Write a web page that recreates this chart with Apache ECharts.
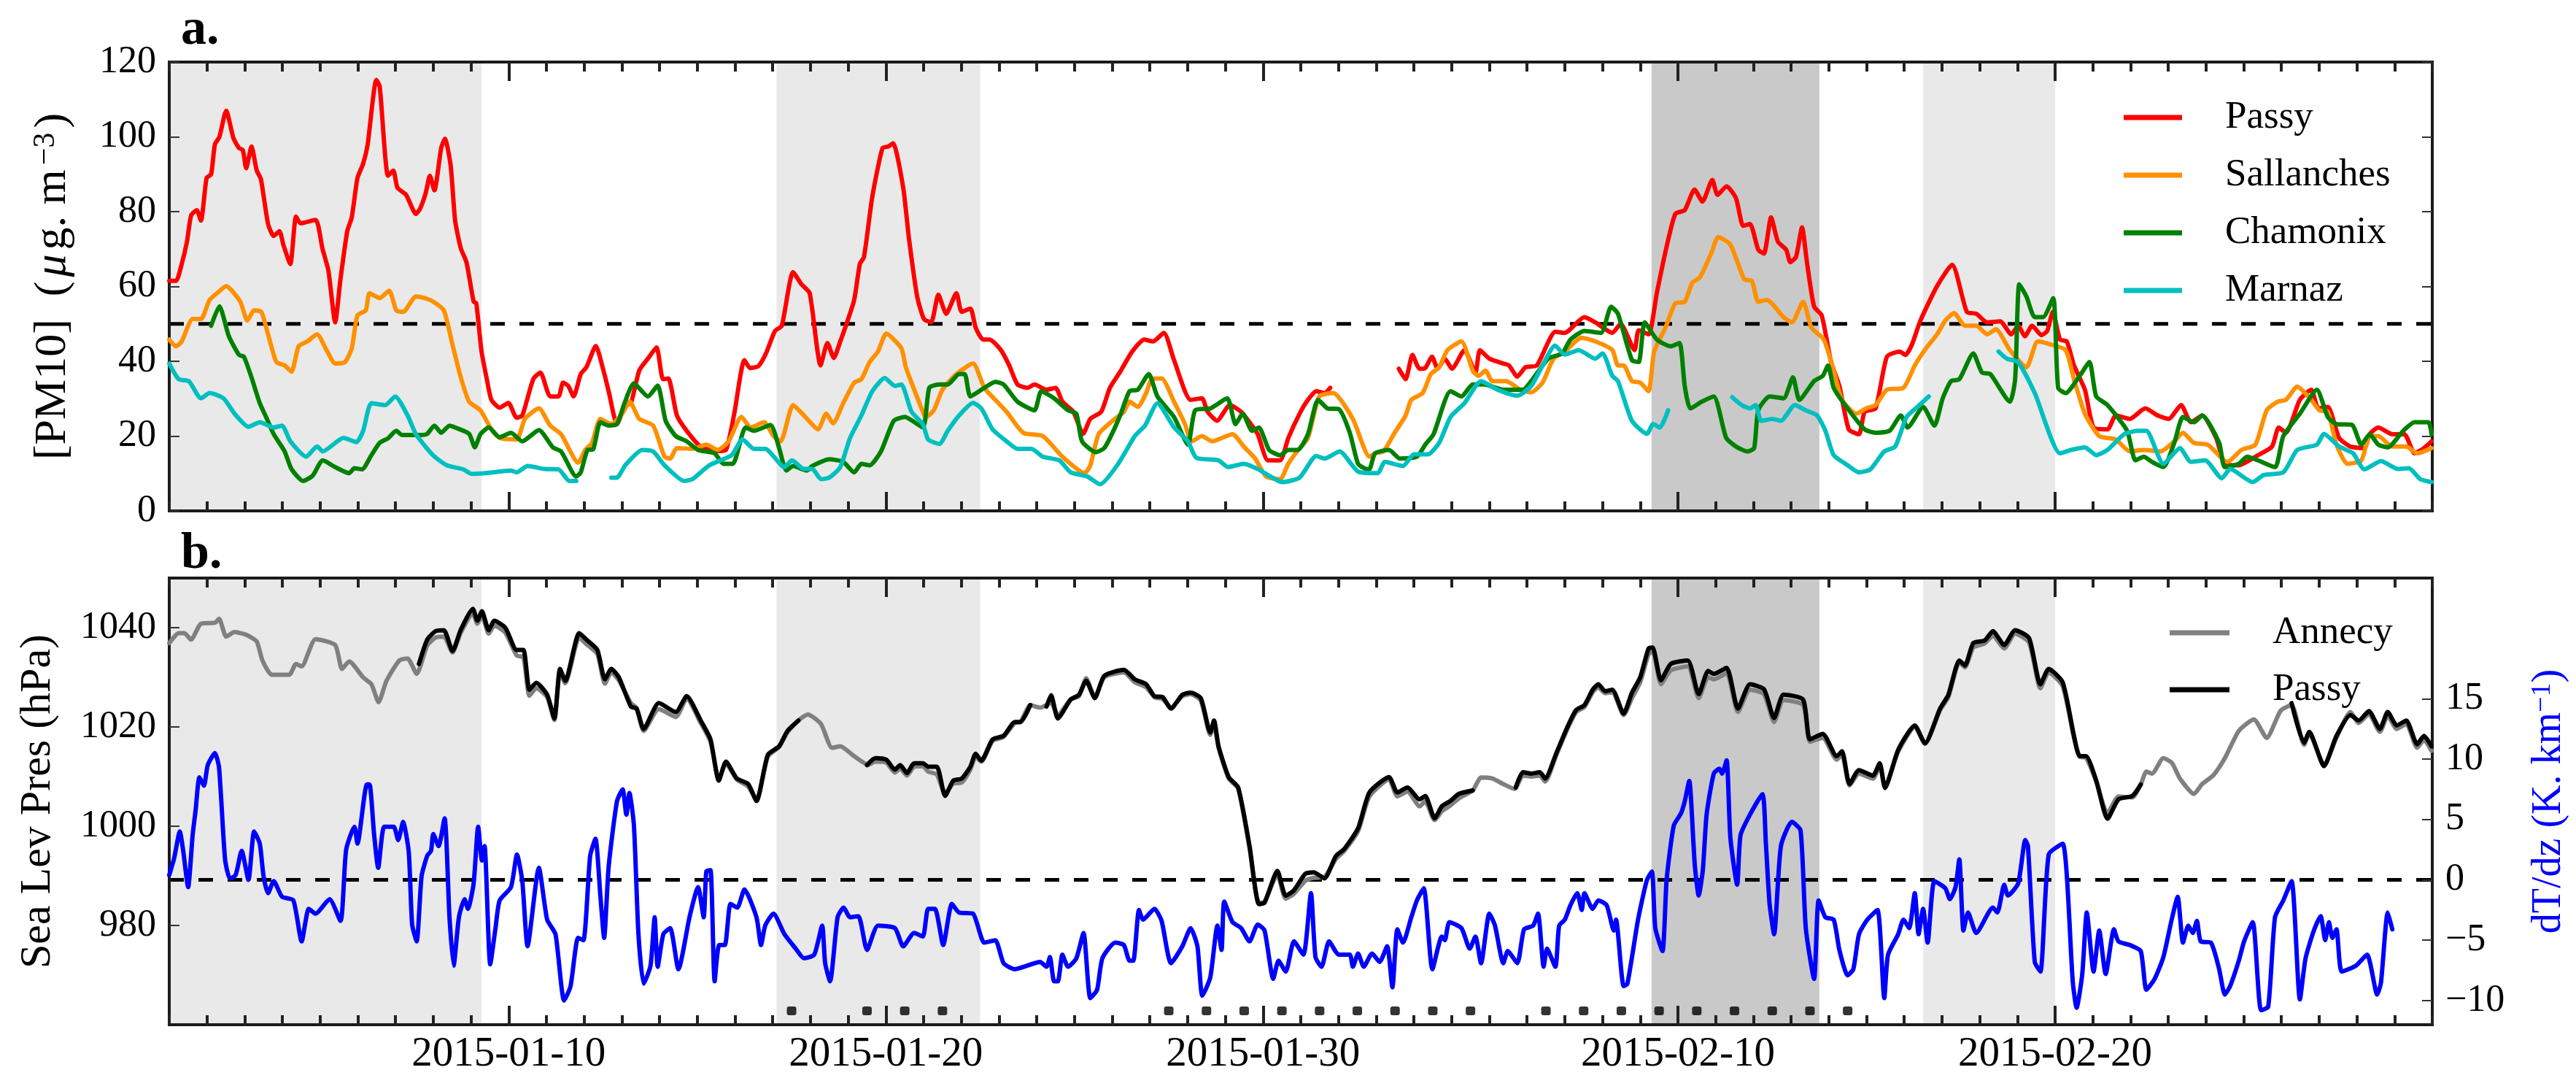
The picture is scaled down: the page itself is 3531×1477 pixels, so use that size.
<!DOCTYPE html>
<html><head><meta charset="utf-8">
<style>html,body{margin:0;padding:0;background:#fff}#c{width:3531px;height:1477px}</style>
<script src="https://cdn.jsdelivr.net/npm/echarts@6/dist/echarts.min.js"></script>
</head><body><div id="c"></div>
<script>
// x values: days after 2015-01-01 00:00
const majorDays=[9,19,29,40,50];
const majorLabels=['2015-01-10','2015-01-20','2015-01-30','2015-02-10','2015-02-20'];
const pmTicks=[0,20,40,60,80,100,120];
const presTicks=[980,1000,1020,1040];
const dtTicks=[-10,-5,0,5,10,15];
const lightSpells=[[0,8.28],[16.1,21.5],[46.5,50]];
const darkSpells=[[39.3,43.75]];
const pmLimit=[[0,50],[60,50]];
const dtZero=[[0,0],[60,0]];
const stableDays=[16.5,18.5,19.5,20.5,26.5,27.5,28.5,29.5,30.5,31.5,32.5,33.5,34.5,36.5,37.5,38.5,39.5,40.5,41.5,42.5,43.5,44.5];

const pmPassy=[[0,61.5],[.18,61.5],[.33,66],[.47,72],[.58,79],[.73,80.4],[.84,77.6],[.99,89],[1.11,90],[1.21,98],[1.33,100],[1.51,107],[1.7,99.7],[1.85,97],[1.95,96.5],[2.04,91.6],[2.18,97.4],[2.32,91],[2.43,88.7],[2.62,76.7],[2.77,73.5],[2.92,74.8],[3.03,71],[3.21,66],[3.36,78.7],[3.48,76.9],[3.88,77.8],[4.06,70.2],[4.22,64.2],[4.4,50.4],[4.54,62],[4.72,74.8],[4.84,78.5],[4.99,89],[5.14,92.8],[5.26,97.9],[5.49,115.2],[5.58,113.5],[5.8,89.6],[5.94,91],[6.05,86.4],[6.28,84.5],[6.54,79.4],[6.65,80.8],[6.8,85],[6.91,89.6],[7.03,85.7],[7.21,97],[7.31,99.5],[7.46,92.4],[7.58,77.6],[7.73,70.2],[7.88,66.5],[8.07,56],[8.14,55.5],[8.28,42.6],[8.42,35.2],[8.54,29.7],[8.76,27.6],[8.99,28.9],[9.21,24.9],[9.36,25.5],[9.65,35.2],[9.84,37],[10.1,30.6],[10.32,30.6],[10.44,34.3],[10.58,33.4],[10.72,30.6],[10.91,36.6],[11.06,38.4],[11.31,44.1],[11.5,38],[11.65,32],[11.87,23.2],[12.09,28.3],[12.24,28.8],[12.46,37.5],[12.69,40.7],[12.92,43.7],[13.09,35.2],[13.23,35.4],[13.46,25.5],[13.72,21.4],[14.09,17.2],[14.54,16],[14.76,16.3],[14.98,26],[15.25,40.3],[15.4,38.2],[15.62,38.7],[15.82,42.1],[16.06,48.1],[16.24,49.5],[16.54,63.8],[16.76,60.6],[16.98,58.2],[17.27,38.9],[17.45,44.9],[17.62,40.9],[17.79,45.3],[17.97,50.4],[18.16,56.4],[18.31,66],[18.42,67.9],[18.64,84],[18.91,97],[19.06,97.4],[19.19,98.3],[19.46,86.4],[19.61,73],[19.83,57.3],[20.01,51.3],[20.2,50.4],[20.39,57.8],[20.6,52.7],[20.87,58.2],[21.01,53.2],[21.24,54.1],[21.38,49],[21.58,45.8],[21.75,45.8],[22.05,43],[22.27,38.9],[22.49,33.8],[22.76,32.9],[22.94,33.8],[23.26,32.4],[23.5,32.9],[23.68,29.2],[23.97,26.5],[24.23,20.6],[24.42,24.6],[24.71,26.5],[24.94,32.9],[25.23,37.5],[25.53,42.6],[25.85,45.8],[26.08,45.3],[26.37,47.6],[26.64,40.3],[27.08,29.7],[27.38,30.1],[27.53,26.5],[27.78,24.1],[28.12,28.3],[28.42,26.5],[28.64,23.7],[28.86,20.5],[29.13,13.5],[29.45,13.5],[29.67,19.5],[29.97,26],[30.19,29.7],[30.41,32],[30.63,31.5],[30.78,32.9],[31,null],[32.6,38],[32.78,35.2],[32.96,41.7],[33.15,38],[33.3,38.2],[33.48,41.2],[33.63,38],[33.82,40.7],[34.01,38],[34.34,43],[34.63,37],[34.75,43],[35,40.7],[35.37,39.4],[35.52,38.9],[35.74,35.9],[35.96,38.4],[36.26,38.9],[36.75,47.9],[37,47.6],[37.52,51.8],[37.81,50.4],[38.26,47.6],[38.48,50],[38.85,43],[38.96,48.3],[39.22,47.2],[39.44,58.2],[39.67,69.3],[39.93,79.4],[40.18,80.4],[40.44,85.9],[40.65,82.7],[40.91,88.5],[41.05,84.5],[41.29,86.8],[41.54,83.6],[41.73,76.2],[41.91,76.7],[42.13,69.8],[42.28,68.8],[42.47,78.5],[42.65,72],[42.87,69.8],[42.98,66.5],[43.13,67.9],[43.29,75.8],[43.42,66.5],[43.61,54.6],[43.81,52.3],[44.06,39.8],[44.28,33.4],[44.53,21.8],[44.8,20.5],[44.95,26.5],[45.24,27.4],[45.54,41.2],[45.88,42.6],[46.03,41.7],[46.2,44.4],[46.43,50.9],[46.87,60.1],[47.27,65.8],[47.66,53.2],[47.91,52.7],[48.2,50.4],[48.54,50.7],[48.84,47.2],[49.02,49.5],[49.2,46.7],[49.39,49.5],[49.64,47],[49.79,48.1],[49.94,53.2],[50.13,45.8],[50.31,45.3],[50.5,38.9],[50.79,32.4],[51.02,22.3],[51.39,21.8],[51.61,25.5],[51.98,24.6],[52.39,27.4],[52.72,25.5],[53.01,24.6],[53.34,28.3],[53.6,23.7],[53.9,25.5],[54.27,19.5],[54.5,12.6],[54.87,12.2],[55.38,14.9],[55.75,17.2],[55.93,22.3],[56.12,20.9],[56.49,29.7],[56.79,32.4],[56.98,27.4],[57.23,27.8],[57.53,19.5],[57.83,17.2],[58.2,16.8],[58.34,20.5],[58.57,22.3],[58.94,20.5],[59.26,20.5],[59.53,15.4],[59.78,16.8],[59.98,18.6]];

const pmSallanches=[[0,45.8],[.18,44],[.33,45.3],[.62,51.3],[.84,51.3],[1.07,56.4],[1.29,58.4],[1.51,60.1],[1.88,56],[2.07,50.9],[2.25,53.6],[2.44,53.2],[2.62,47.2],[2.84,39.8],[3.06,38.9],[3.24,37.2],[3.43,44],[3.66,45.3],[3.92,47.2],[4.17,43],[4.4,39.4],[4.66,39.8],[4.84,43.5],[4.99,52.3],[5.21,53.6],[5.31,58.2],[5.58,56.9],[5.83,58.9],[6.02,53.6],[6.2,53.2],[6.54,57.3],[6.77,56.9],[6.99,56],[7.28,53.6],[7.51,44.4],[7.73,35.7],[7.95,29.2],[8.25,26.9],[8.54,21.8],[8.76,19.5],[9.21,19.1],[9.43,24.6],[9.8,27.4],[10.1,22.8],[10.39,20.5],[10.84,12.9],[11.03,16.3],[11.21,18.2],[11.43,24.6],[11.72,23.2],[11.98,25.5],[12.21,29.2],[12.46,24.6],[12.83,22.8],[13.13,14.5],[13.28,14],[13.46,16.8],[13.87,16.6],[14.24,17.7],[14.54,16.3],[14.83,18.6],[15.17,25.1],[15.42,22.3],[15.77,23.7],[16.02,20],[16.21,18.6],[16.54,28.3],[16.83,25.5],[17.2,21.8],[17.42,26],[17.6,23.4],[17.87,28.8],[18.16,34.3],[18.35,35.2],[18.57,39.8],[18.79,42.6],[19.01,47.4],[19.41,43.5],[19.53,38.4],[19.98,26.5],[20.05,25],[20.27,26.9],[20.5,32.4],[20.87,36.6],[21.31,39.4],[21.61,32.9],[21.9,29.7],[22.2,26.5],[22.64,20.9],[23.16,20],[23.68,14.5],[24.27,10.1],[24.42,12.2],[24.64,20.5],[25.01,24.1],[25.31,26.5],[25.46,29.2],[25.68,27.8],[25.9,31.5],[26.05,35.2],[26.31,35.4],[26.64,29.2],[26.93,23.2],[27.11,18.6],[27.38,20],[27.65,18.6],[28.19,20.5],[28.49,17.2],[28.79,14],[29.08,9.2],[29.45,8.5],[29.67,12.6],[29.9,15.9],[30.19,19.5],[30.49,30.6],[30.86,31.5],[31.38,24.6],[31.82,14.5],[31.97,15.4],[32.19,15.9],[32.49,20.9],[32.78,25.5],[32.93,29.7],[33.23,31.5],[33.45,36.6],[33.67,38.4],[33.89,43],[34.26,45.3],[34.56,37.5],[34.71,36.1],[34.9,37.5],[35.08,34.7],[35.45,34.7],[35.82,32.4],[36.11,31.7],[36.41,34.3],[36.7,40.7],[37,42.6],[37.44,46.3],[37.81,45.3],[38.26,43],[38.41,38.9],[38.56,38.9],[38.78,34.7],[39,34.3],[39.22,32],[39.37,42.6],[39.67,49],[39.93,55.5],[40.18,55.9],[40.38,61],[40.58,62.4],[40.88,68.8],[41.07,73.2],[41.39,71.2],[41.76,61.9],[41.96,61.5],[42.13,55.9],[42.36,56.4],[42.8,51.8],[43.02,50.4],[43.32,55.9],[43.54,49],[43.87,45.8],[44.13,37.5],[44.35,29.7],[44.73,26],[44.99,27.4],[45.24,28.3],[45.54,32.4],[45.98,32.9],[46.28,38.9],[46.58,43.5],[46.87,47.2],[47.09,50.9],[47.32,52.9],[47.61,49.5],[47.91,49.5],[48.2,47.2],[48.43,48.6],[48.8,43],[49.24,38.4],[49.54,45.3],[49.91,44.4],[50.28,43],[50.5,35.2],[50.79,26],[51.17,20],[51.61,19.1],[51.98,15.9],[52.35,16.3],[52.79,15.9],[53.16,18.6],[53.39,20.9],[53.68,18.2],[54.05,17.7],[54.57,13.1],[54.94,16.3],[55.31,17.7],[55.61,26.9],[55.9,29.2],[56.12,29.7],[56.42,33.2],[56.79,29.7],[57.01,26.9],[57.23,26.5],[57.46,17.7],[57.75,12.6],[58.12,13.5],[58.34,20],[58.57,20],[58.94,17.2],[59.31,17.2],[59.6,15.4],[59.98,16.8]];

const pmChamonix=[[1.11,49.5],[1.33,54.7],[1.58,46.7],[1.85,41.7],[1.98,41.2],[2.18,35.7],[2.4,28.8],[2.59,24.6],[2.77,20.5],[3.06,15.9],[3.24,11.2],[3.55,8],[3.8,9.4],[4.07,13.5],[4.4,11.7],[4.77,10.1],[4.91,11.4],[5.11,11.1],[5.36,14.9],[5.58,18.2],[5.8,19.4],[6.02,21.4],[6.17,20.3],[6.69,20.3],[6.84,20.6],[7.03,22.8],[7.21,20.9],[7.43,22.8],[7.58,22.3],[7.95,20.6],[8.1,17],[8.25,20.5],[8.47,22.3],[8.76,19.7],[9.06,20.9],[9.36,18.6],[9.8,21.6],[10.17,17],[10.39,15.9],[10.79,9.2],[10.91,10.3],[11.09,16.3],[11.24,16.5],[11.43,23.7],[11.65,22.8],[11.87,23.2],[12.07,28.8],[12.32,34.1],[12.69,30.6],[12.95,33.5],[13.16,24.1],[13.43,20],[13.72,18.6],[14.02,16.3],[14.46,15.4],[14.69,12.6],[14.94,12.6],[15.28,22.3],[15.5,21.4],[15.94,23],[16.17,16.8],[16.36,10.8],[16.54,12],[16.91,10.8],[17.05,12],[17.5,13.8],[17.87,13.1],[18.16,10.3],[18.35,12.6],[18.57,12.2],[18.87,15.9],[19.21,24.1],[19.5,25.1],[19.98,22.3],[20.15,32.9],[20.42,33.8],[20.64,33.8],[20.94,36.6],[21.09,36.6],[21.24,30.6],[21.61,32.9],[21.9,34.5],[22.12,33.8],[22.49,29.2],[22.94,26.9],[23.12,32],[23.46,30.1],[23.83,26.9],[24.05,26],[24.2,18.6],[24.57,15.7],[24.79,16.8],[25.01,20.9],[25.23,26],[25.46,32],[25.68,32.4],[25.97,36.6],[26.2,30.6],[26.64,25.1],[27.01,17.7],[27.2,26.9],[27.6,27.4],[28.05,30.1],[28.27,23.2],[28.46,26],[28.71,21.4],[28.89,22.3],[29.16,16.3],[29.45,14.9],[29.67,16.3],[29.92,16.3],[30.19,20.5],[30.46,29.7],[30.71,27.4],[31.01,27.2],[31.3,20.9],[31.52,12.6],[31.75,11.2],[31.82,11.2],[31.97,15.4],[32.34,16.3],[32.63,14],[33.08,14.5],[33.3,17.7],[33.52,20.5],[33.97,32],[34.26,30.6],[34.56,33.8],[34.86,33.8],[35.37,32.4],[35.89,32.4],[36.11,34.7],[36.56,40.7],[36.93,42.1],[37.15,45.8],[37.52,48.1],[37.96,47.6],[38.23,54.6],[38.41,52.7],[38.78,40.3],[38.96,39.8],[39.12,50.4],[39.44,45.8],[39.81,44],[40.04,44.9],[40.18,33.4],[40.33,27.4],[40.63,29.2],[40.95,30.6],[41.28,19.5],[41.54,17.2],[41.84,15.9],[42.02,16.8],[42.13,26.9],[42.43,30.6],[42.8,30.1],[43.05,35.7],[43.22,29.7],[43.61,34.7],[43.84,36.1],[43.98,38.9],[44.13,32.9],[44.43,28.3],[44.95,21.8],[45.24,20.9],[45.61,21.4],[45.91,25.5],[46.09,22.3],[46.5,27.8],[46.8,22.8],[47.02,30.1],[47.24,34.7],[47.46,35.2],[47.83,42.1],[48.06,37],[48.28,36.6],[48.8,29.2],[48.94,35.2],[49.05,60.6],[49.24,57.3],[49.46,51.8],[49.68,51.8],[49.95,56.9],[50.08,32.9],[50.28,31.5],[50.65,36.1],[50.91,39.8],[51.09,30.6],[51.39,28.3],[51.91,21.4],[52.13,13.5],[52.35,14.5],[52.57,13.1],[52.87,11.7],[53.16,18.2],[53.39,25.1],[53.68,23.7],[53.9,25.5],[54.35,18.2],[54.5,11.7],[54.87,12.6],[55.09,14.5],[55.38,13.5],[55.83,11.7],[56.05,20],[56.49,26],[56.94,32.4],[57.23,25.1],[57.46,23.2],[57.87,23],[58.12,17.7],[58.34,20.5],[58.57,17.7],[58.82,17],[59.23,21.4],[59.53,23.7],[59.9,23.7],[59.98,20.5]];

const pmMarnaz=[[0,39.4],[.25,35.2],[.52,34.7],[.84,30.1],[1.07,31.5],[1.44,30.1],[1.73,26],[2.1,22.5],[2.4,23.7],[2.77,22.3],[2.99,22.8],[3.21,18.6],[3.63,14.5],[3.92,17.2],[4.07,15.9],[4.62,19.5],[4.96,18.4],[5.14,21.4],[5.36,28.8],[5.73,28.3],[5.99,30.6],[6.32,25.5],[6.54,20.5],[6.99,14.9],[7.36,12.2],[7.8,11.1],[8.02,9.9],[8.39,10.1],[9.06,10.8],[9.21,10.3],[9.5,12],[9.95,11.2],[10.32,11.1],[10.61,8],[10.79,8],[11.2,null],[11.72,8.9],[11.87,8.9],[12.09,12.2],[12.54,16.3],[12.83,15.9],[13.13,12.2],[13.65,8],[13.87,8.5],[14.32,12.2],[14.91,14.9],[15.2,19.1],[15.5,16.6],[15.8,16.6],[16.31,11.7],[16.51,13.5],[16.83,11.2],[17.05,11.2],[17.28,8.5],[17.5,8.9],[17.79,11.7],[18.05,19.5],[18.35,25.5],[18.64,32],[18.97,35.5],[19.24,33.4],[19.41,33.8],[19.68,26.5],[19.98,23.2],[20.12,19.1],[20.42,17.9],[20.64,21.4],[20.94,25.5],[21.31,28.9],[21.53,27.4],[21.83,21.8],[22.2,18.6],[22.49,16.6],[22.86,16.6],[23.16,14.5],[23.6,13.5],[23.9,10.3],[24.34,9.2],[24.68,7.1],[25.16,12.6],[25.6,20],[25.87,22.8],[26.2,28.8],[26.64,22.3],[27.01,18.6],[27.23,14.2],[27.82,13.5],[28.07,11.7],[28.49,12.6],[28.86,11.2],[29.52,7.7],[29.97,8.9],[30.41,14.7],[30.63,14],[31.03,15.9],[31.52,10.5],[32.04,10.1],[32.23,13.1],[32.71,12],[33,15.1],[33.37,15.1],[33.67,18.2],[33.97,25.1],[34.34,28.8],[34.78,34.7],[35.22,32.4],[35.74,30.8],[36.11,33.4],[36.41,38.9],[36.74,44.2],[37,41.8],[37.37,43],[37.81,40.7],[38,42.1],[38.26,36.1],[38.41,34.7],[38.78,24.1],[39.18,20.6],[39.34,23.2],[39.52,22.3],[39.74,26.9],[40.5,null],[41.44,30.4],[41.69,28.3],[41.91,27.4],[42.06,28.3],[42.21,24.1],[42.5,24.6],[42.73,24.1],[43.1,28.3],[43.39,26.9],[43.69,25.5],[43.91,21.4],[44.13,14.9],[44.5,12.2],[44.8,10.3],[45.1,11.1],[45.47,15.9],[45.76,17.2],[46.06,25.1],[46.35,27.8],[46.65,30.6],[47.5,null],[48.5,42.6],[48.72,40.7],[49.02,39.8],[49.46,31.5],[50.13,15.4],[50.42,16.3],[50.79,17],[51.09,14.9],[51.39,16.3],[51.83,20.5],[52.2,21.4],[52.42,21.4],[52.87,12.6],[53.31,16.8],[53.6,13.1],[53.98,13.5],[54.42,8.7],[54.64,11.2],[55.24,7.7],[55.53,9.6],[56.05,10.3],[56.42,16.3],[56.94,17.7],[57.13,20.6],[57.53,17.2],[57.9,15.4],[58.2,11.1],[58.64,13.3],[59.09,11.2],[59.38,11.4],[59.68,8.5],[59.98,7.7]];

const presAnnecy=[[0,1036.9],[.25,1038.9],[.4,1038.9],[.58,1037.6],[.84,1040.8],[1.21,1041],[1.32,1041.8],[1.51,1038.2],[1.73,1039.1],[2.03,1038.6],[2.32,1037.2],[2.47,1033.4],[2.72,1030.5],[3.18,1030.5],[3.36,1032.7],[3.51,1032.2],[3.88,1037.7],[4.4,1036.5],[4.58,1031.7],[4.77,1033.2],[5.14,1030],[5.36,1028.6],[5.55,1025],[5.76,1029.3],[6.1,1033.4],[6.32,1033.8],[6.56,1030.7],[6.84,1036.4],[7.06,1038],[7.28,1038.2],[7.51,1035],[7.73,1039],[8.05,1042.8],[8.17,1040.8],[8.29,1042.4],[8.47,1038.8],[8.62,1040.4],[8.91,1039],[9.21,1034.4],[9.39,1034],[9.55,1026.3],[9.73,1027.8],[10.02,1026],[10.21,1021.4],[10.36,1031],[10.5,1028.8],[10.87,1038],[11.06,1036.7],[11.35,1034.7],[11.55,1028.7],[11.72,1031],[11.92,1029.4],[12.24,1024.8],[12.39,1023.8],[12.58,1019.2],[12.98,1023.6],[13.43,1022],[13.72,1025.7],[14.09,1020.8],[14.35,1017],[14.57,1009.5],[14.76,1012.6],[15.05,1009.4],[15.35,1008],[15.57,1005.3],[15.87,1014],[16.17,1016],[16.39,1018.9],[16.68,1021.3],[16.93,1022.5],[17.28,1020.6],[17.57,1015.8],[17.79,1016.1],[18.16,1014.1],[18.53,1012.4],[18.72,1013],[19.01,1012.8],[19.24,1010.8],[19.38,1011.6],[19.56,1010.2],[19.75,1012],[19.98,1012.1],[20.12,1011],[20.35,1010.4],[20.57,1006.6],[20.79,1008.6],[21.01,1008.8],[21.24,1011.4],[21.38,1014],[21.53,1013],[21.83,1017.2],[22.12,1018],[22.42,1020.8],[22.57,1021],[22.83,1024.4],[23.09,1023.9],[23.38,1024.8],[23.56,1022.4],[23.9,1025.6],[24.12,1026.2],[24.31,1029.8],[24.54,1026],[24.79,1030],[25.31,1031],[25.6,1029],[25.9,1028],[26.12,1026],[26.34,1025.6],[26.56,1023.9],[26.86,1026.2],[27.08,1026.6],[27.35,1025.3],[27.6,1018.4],[27.7,1020.6],[27.82,1015.8],[28.09,1009.6],[28.34,1007.6],[28.64,995.6],[28.89,984.6],[29.04,984.8],[29.38,990.2],[29.6,985.4],[29.82,986.4],[30.12,989],[30.34,989.6],[30.63,989.8],[30.93,993.4],[31.15,995],[31.52,999],[31.82,1006],[32.34,1009.4],[32.56,1006],[32.83,1007],[33.15,1004],[33.3,1005],[33.55,1001.2],[33.74,1003],[33.97,1004.2],[34.19,1005.6],[34.56,1007.2],[34.78,1009.8],[35.08,1009.6],[35.37,1008.5],[35.67,1007.5],[35.89,1010.2],[36.11,1010],[36.34,1010.2],[36.48,1009],[36.78,1014.4],[37.07,1019.6],[37.3,1023],[37.52,1024],[37.74,1027],[37.89,1028],[38.07,1026.8],[38.26,1027],[38.56,1022.4],[38.78,1025.8],[39,1029],[39.22,1034.6],[39.33,1035.2],[39.55,1028.6],[39.81,1031.4],[40.26,1032.2],[40.55,1025.8],[40.8,1030],[40.95,1029.6],[41.29,1030.8],[41.59,1023],[41.91,1027.5],[42.28,1026.6],[42.55,1021],[42.8,1025.4],[43.32,1024.4],[43.5,1017],[43.84,1017.8],[44.21,1013.4],[44.35,1014.4],[44.55,1008.2],[44.8,1010.6],[45.17,1009.6],[45.35,1012],[45.49,1007.9],[45.84,1015],[46.28,1020],[46.55,1016.6],[46.95,1023.4],[47.17,1026],[47.46,1033],[47.61,1032],[47.83,1036],[48.13,1036.8],[48.35,1038.4],[48.65,1035.8],[48.94,1038.8],[49.31,1037],[49.61,1027.8],[49.83,1031],[50.2,1028.2],[50.5,1017.8],[50.65,1014],[50.82,1013.8],[51.09,1009],[51.39,1002.6],[51.68,1006],[52.05,1005.8],[52.27,1008.4],[52.42,1011],[52.57,1010.6],[52.87,1013.7],[53.1,1012.7],[53.31,1009.6],[53.68,1006.5],[53.9,1008.5],[54.2,1010.3],[54.5,1013.7],[54.87,1019.2],[55.27,1021.5],[55.61,1017.8],[55.98,1023.3],[56.27,1024.4],[56.6,1016.4],[56.74,1018.6],[57.13,1012.4],[57.46,1017.8],[57.83,1023],[58.05,1020.8],[58.32,1022.6],[58.61,1019],[58.82,1022.2],[59.06,1019.6],[59.31,1020.6],[59.6,1015.8],[59.78,1017.4],[59.98,1015.2]];

const presPassy=[[6.62,1032.7],[6.84,1037.6],[7.06,1039.3],[7.28,1039.5],[7.51,1035.3],[7.73,1039.6],[8.05,1043.8],[8.17,1041.4],[8.29,1043.3],[8.47,1039.5],[8.62,1041.4],[8.91,1040],[9.21,1035.5],[9.39,1035.5],[9.55,1027.5],[9.73,1028.9],[10.02,1026.5],[10.21,1021.7],[10.36,1031.7],[10.5,1029.3],[10.87,1038.9],[11.06,1037.6],[11.35,1035.5],[11.55,1029.6],[11.72,1031.7],[11.92,1030],[12.24,1024.1],[12.39,1023.7],[12.58,1019.6],[12.98,1024.8],[13.43,1023],[13.72,1026.2],[14.09,1021.3],[14.35,1017.5],[14.57,1009.2],[14.76,1013],[15.05,1009.6],[15.35,1008.5],[15.57,1005.1],[15.87,1014.4],[16.17,1016.1],[16.39,1019.2],[16.68,1021.3],[17,null],[18.5,1012.3],[18.72,1013.7],[19.01,1013.4],[19.24,1011.4],[19.38,1012.3],[19.56,1010.7],[19.75,1012.7],[19.98,1012.7],[20.12,1012],[20.35,1012],[20.57,1006.1],[20.79,1009.2],[21.01,1009.6],[21.24,1012],[21.38,1014.6],[21.53,1013.2],[21.83,1017.5],[22.12,1018.2],[22.42,1021],[22.57,1021],[22.83,1024.4],[23,null],[23.26,1024.1],[23.38,1026.4],[23.56,1021.7],[23.9,1025.5],[24.12,1026.5],[24.31,1029.3],[24.54,1025.8],[24.79,1030.3],[25.31,1031.5],[25.6,1029.6],[25.9,1028.6],[26.12,1026.2],[26.34,1026],[26.56,1023.7],[26.86,1026.5],[27.08,1026.9],[27.35,1025.8],[27.6,1018.9],[27.7,1021.3],[27.82,1016.1],[28.09,1009.9],[28.34,1007.8],[28.64,996.1],[28.89,984.3],[29.04,984.6],[29.38,991],[29.6,986],[29.82,987.1],[30.12,990.4],[30.34,990.7],[30.63,989.5],[30.93,994],[31.15,995.4],[31.52,999.6],[31.82,1006.8],[32.34,1009.9],[32.56,1006.8],[32.83,1007.8],[33.15,1005.4],[33.3,1006.1],[33.55,1001.6],[33.74,1004],[33.97,1005.1],[34.19,1006.5],[34.56,1007.2],[35,null],[35.7,1007.8],[35.89,1010.9],[36.11,1010.6],[36.34,1010.9],[36.48,1009.6],[36.78,1014.8],[37.07,1020],[37.3,1023.4],[37.52,1024.4],[37.74,1027.5],[37.89,1028.6],[38.07,1027.2],[38.26,1027.5],[38.56,1022.7],[38.78,1026.9],[39,1030],[39.22,1035.8],[39.33,1036],[39.55,1029.4],[39.81,1032.7],[40.26,1033.4],[40.55,1026.6],[40.8,1031.3],[40.95,1030.7],[41.29,1031.9],[41.59,1023.7],[41.91,1028.6],[42.28,1027.6],[42.55,1021.8],[42.8,1026.5],[43.32,1025.5],[43.5,1017.5],[43.84,1018.6],[44.21,1014.1],[44.35,1015.1],[44.55,1008.5],[44.8,1011.3],[45.17,1010.2],[45.35,1012.7],[45.49,1007.7],[45.84,1015.4],[46.28,1020.3],[46.55,1016.7],[46.95,1023.7],[47.17,1026.5],[47.46,1033.4],[47.61,1032.4],[47.83,1036.9],[48.13,1037.4],[48.35,1039.3],[48.65,1036.5],[48.94,1039.5],[49.31,1037.9],[49.61,1028.6],[49.83,1031.7],[50.2,1029],[50.5,1018.2],[50.65,1014.1],[50.82,1014.1],[51.09,1009.2],[51.39,1001.5],[51.68,1005.4],[52.05,1006.1],[52.27,1008.4],[52.5,null],[56.27,1024.8],[56.6,1016.8],[56.74,1019],[57.13,1012.1],[57.46,1018.2],[57.83,1022.4],[58.05,1021.3],[58.32,1023.2],[58.61,1019.6],[58.82,1023],[59.06,1020.3],[59.31,1021.3],[59.6,1016.5],[59.78,1018.2],[59.98,1016.1]];

const dTdz=[[0,.4],[.13,1.8],[.28,4],[.37,2.4],[.5,-.6],[.62,3.7],[.7,5.8],[.8,8.5],[.92,7.8],[1.02,9.5],[1.21,10.5],[1.32,9.3],[1.48,1.7],[1.61,.1],[1.76,.4],[1.92,2.4],[2.1,0],[2.25,4],[2.4,3],[2.5,.3],[2.62,-1.1],[2.77,-.1],[2.99,-1.4],[3.29,-1.7],[3.51,-5.1],[3.7,-2.4],[3.88,-2.8],[4.25,-1.6],[4.54,-3.4],[4.69,2.5],[4.91,4.4],[4.99,3],[5.24,7.9],[5.31,7.9],[5.43,3.8],[5.54,1],[5.7,4.4],[5.95,4.4],[6.07,3.3],[6.2,4.8],[6.35,2.3],[6.44,-3.7],[6.56,-5.1],[6.69,.3],[6.84,2],[6.94,2.4],[7,3.8],[7.14,2.8],[7.3,5.1],[7.43,-3.1],[7.54,-7.1],[7.68,-3.1],[7.83,-1.6],[7.92,-2.4],[8.07,-.3],[8.19,4.4],[8.29,1.6],[8.36,2.8],[8.51,-7],[8.65,-4],[8.76,-1.7],[9.06,-.6],[9.22,2.1],[9.36,-.1],[9.5,-5.5],[9.8,1],[10.02,-3.3],[10.24,-4.5],[10.47,-10],[10.64,-8.8],[10.84,-4.8],[10.98,-5],[11.16,2],[11.3,3.4],[11.43,-1.3],[11.53,-4.8],[11.65,1.1],[11.87,6.5],[12.02,7.5],[12.12,5.4],[12.2,7.2],[12.32,4.5],[12.44,-4.5],[12.58,-8.6],[12.76,-7.1],[12.87,-3.1],[12.95,-7.2],[13.1,-4.5],[13.28,-4],[13.5,-7.4],[13.8,-3],[14.02,-.6],[14.17,-3.1],[14.24,.7],[14.35,.8],[14.46,-8.4],[14.58,-5.4],[14.73,-5.4],[14.88,-2],[15.06,-2.3],[15.25,-.8],[15.57,-3.1],[15.69,-5.4],[15.8,-3.8],[16.02,-2.8],[16.31,-4.5],[16.61,-5.7],[16.83,-6.5],[17.1,-6.2],[17.31,-3.8],[17.39,-6.9],[17.52,-8.4],[17.72,-3.1],[17.88,-2.3],[18.05,-3.1],[18.27,-3],[18.5,-5.8],[18.79,-3.8],[19.24,-4],[19.46,-5.5],[19.75,-4.4],[19.98,-4.7],[20.12,-2.4],[20.3,-2.4],[20.52,-5.4],[20.75,-2],[20.94,-2.7],[21.31,-2.8],[21.61,-5.2],[21.9,-5],[22.12,-6.9],[22.42,-7.4],[23.09,-6.8],[23.26,-7.2],[23.35,-6.4],[23.46,-8.4],[23.56,-8.4],[23.68,-6.2],[23.83,-7.2],[24.05,-6.5],[24.24,-4.4],[24.42,-9.8],[24.6,-9.1],[24.74,-6.5],[25.08,-5.2],[25.31,-5.4],[25.46,-6.7],[25.56,-6.7],[25.71,-2.5],[25.82,-3.3],[26.12,-2.4],[26.31,-3.4],[26.56,-6.9],[26.86,-5.5],[27.08,-4],[27.26,-5.5],[27.39,-9.6],[27.6,-8.1],[27.79,-3.8],[27.9,-5.8],[27.97,-1.8],[28.19,-3.5],[28.42,-4],[28.64,-5.1],[28.86,-3.7],[29.04,-4.2],[29.27,-8.2],[29.41,-6.7],[29.6,-7.6],[29.82,-5.1],[30.07,-6.2],[30.27,-1.1],[30.39,-6.4],[30.55,-7.2],[30.75,-5.1],[31.01,-6.2],[31.3,-6.2],[31.38,-7.2],[31.52,-6.1],[31.67,-7.2],[31.89,-6.1],[32.09,-6.8],[32.29,-5.5],[32.43,-8.9],[32.56,-4.1],[32.71,-5.2],[32.93,-3.1],[33.08,-1.7],[33.26,-.7],[33.49,-7.4],[33.74,-4.7],[33.82,-5],[33.94,-3.5],[34.26,-4],[34.48,-5.7],[34.63,-4.7],[34.78,-6.9],[35,-2.8],[35.15,-3.8],[35.37,-6.9],[35.49,-5.9],[35.74,-6.9],[35.92,-4.1],[36.16,-3.8],[36.29,-2.8],[36.44,-7.2],[36.53,-5.7],[36.75,-7.2],[36.85,-3.8],[37,-3.3],[37.15,-2.1],[37.33,-1.1],[37.45,-2.5],[37.52,-1.1],[37.74,-2.4],[37.89,-1.7],[38.11,-2.1],[38.3,-4.2],[38.36,-3.3],[38.56,-8.8],[38.66,-8.6],[38.93,-3.5],[39.07,-1.4],[39.18,0],[39.31,.7],[39.4,-4],[39.59,-5.9],[39.7,0],[39.89,4.5],[40.08,5.5],[40.18,6.5],[40.3,8.2],[40.41,3.1],[40.45,1.1],[40.55,-1.3],[40.66,.8],[40.76,5.4],[40.95,8.8],[41.1,9.2],[41.17,8.8],[41.29,9.9],[41.39,3.5],[41.57,-.4],[41.66,3.7],[41.91,5.4],[42.24,7.1],[42.33,3.1],[42.43,-2],[42.55,-4.5],[42.73,2.8],[43.02,4.8],[43.25,4.1],[43.39,-4],[43.61,-8.2],[43.73,-1.7],[43.91,-3.1],[44.13,-3.3],[44.28,-5.8],[44.5,-7.9],[44.65,-7.4],[44.8,-4.5],[45.02,-3.3],[45.29,-2.5],[45.47,-9.8],[45.57,-6.2],[45.84,-4.5],[45.98,-3.3],[46.13,-4],[46.28,-1.1],[46.38,-4.5],[46.5,-2.4],[46.62,-5.2],[46.8,-.1],[47.09,-.7],[47.21,-1.6],[47.36,-.6],[47.46,1.7],[47.57,-4.2],[47.69,-2.7],[47.91,-4.4],[48.35,-2.3],[48.47,-2.7],[48.65,-.4],[48.75,-1.3],[49.02,-.3],[49.21,3.3],[49.28,2.8],[49.46,-6.8],[49.61,-7.6],[49.83,2.1],[50.2,3],[50.47,-8.5],[50.57,-10.6],[50.72,-7.8],[50.84,-2.7],[51.02,-7.6],[51.17,-4.2],[51.34,-7.8],[51.56,-4.1],[51.68,-5.1],[51.98,-5.4],[52.27,-5.9],[52.42,-9.1],[52.64,-8.2],[52.87,-6.4],[53.09,-3.3],[53.25,-1.4],[53.39,-5.2],[53.53,-3.8],[53.65,-4.4],[53.76,-3.4],[53.86,-5.1],[54.13,-5.2],[54.35,-7.4],[54.5,-9.5],[54.64,-8.8],[54.87,-6.7],[55.01,-5.1],[55.24,-3.5],[55.46,-10.8],[55.65,-10.5],[55.83,-3.1],[56.05,-1.7],[56.27,-.1],[56.49,-9.9],[56.64,-6.5],[56.86,-4.2],[57.04,-3],[57.16,-5],[57.26,-3.5],[57.35,-4.8],[57.46,-4.1],[57.6,-7.6],[57.98,-7.1],[58.27,-6.2],[58.54,-9.5],[58.64,-8.5],[58.82,-2.7],[58.94,-4.1]];

const SERIF='"Liberation Serif","Times New Roman",serif';
const FS=52;
const chart=echarts.init(document.getElementById('c'),null,{renderer:'canvas',width:3531,height:1477});

function xAxes(grid,withLabels){
  const tick=(pos,custom,len,w)=>({type:'value',gridIndex:grid,position:pos,min:0,max:60,z:5,
    axisLine:{show:false,onZero:false},splitLine:{show:false},
    axisTick:custom?{show:true,inside:true,length:len,lineStyle:{color:'#222',width:w},customValues:majorDays}
                   :{show:true,inside:true,length:len,lineStyle:{color:'#222',width:w}},
    interval:1,
    axisLabel:{show:false}});
  const bottomMajor=tick('bottom',true,26,4);
  if(withLabels){
    bottomMajor.axisLabel={show:true,customValues:majorDays,fontFamily:SERIF,fontSize:57,color:'#000',margin:13,
      formatter:v=>majorLabels[majorDays.indexOf(v)]};
  }
  return [bottomMajor,tick('top',true,26,4),tick('bottom',false,13,4),tick('top',false,13,4)];
}
function yAxis(grid,pos,min,max,ticks,labels,extra){
  return Object.assign({type:'value',gridIndex:grid,position:pos,min,max,z:5,
    axisLine:{show:false,onZero:false},splitLine:{show:false},
    axisTick:{show:true,inside:true,length:14,lineStyle:{color:'#333',width:2},customValues:ticks},
    axisLabel:{show:labels,customValues:ticks,fontFamily:SERIF,fontSize:FS,color:'#000',margin:18,
      formatter:v=>v<0?'\u2212'+Math.abs(v):String(v)}},extra||{});
}
const line=(name,data,color,xi,yi,w,z)=>({type:'line',name,data,xAxisIndex:xi,yAxisIndex:yi,showSymbol:false,symbol:'none',
  smooth:0.2,silent:true,animation:false,z:z,lineStyle:{color,width:w,join:'round',cap:'round'},itemStyle:{color}});
const shades=()=>({silent:true,animation:false,data:
  lightSpells.map(s=>[{xAxis:s[0],itemStyle:{color:'#e9e9e9'}},{xAxis:s[1]}]).concat(
  darkSpells.map(s=>[{xAxis:s[0],itemStyle:{color:'#c9c9c9'}},{xAxis:s[1]}]))});
const dash=(data,xi,yi)=>{const s=line('limit',data,'#000',xi,yi,5,3);s.smooth=false;s.lineStyle.type=[20,20];s.lineStyle.cap='butt';s.markArea=shades();s.markArea.z=1;s.z=3;return s;};
const gridBase={left:232,width:3102,show:true,z:5,backgroundColor:'transparent',borderColor:'#1a1a1a',borderWidth:4,outerBoundsMode:'none',containLabel:false};

chart.setOption({
  animation:false,backgroundColor:'#fff',
  title:[
    {text:'a.',left:243,top:2,textStyle:{fontFamily:SERIF,fontSize:70,fontWeight:'bold',color:'#000'}},
    {text:'b.',left:243,top:720,textStyle:{fontFamily:SERIF,fontSize:70,fontWeight:'bold',color:'#000'}}
  ],
  grid:[
    Object.assign({top:85,height:615},gridBase),
    Object.assign({top:792,height:612},gridBase)
  ],
  xAxis:[...xAxes(0,false),...xAxes(1,true)],
  yAxis:[
    yAxis(0,'left',0,120,pmTicks,true,{name:'{n|[PM10]  (}{i|\u03bc}{n|g. m}{s|\u22123}{n|)}',nameLocation:'middle',nameRotate:90,nameGap:128,
      nameTextStyle:{rich:{n:{fontFamily:SERIF,fontSize:62,color:'#000'},i:{fontFamily:SERIF,fontSize:62,fontStyle:'italic',color:'#000',padding:[0,6,0,6]},s:{fontFamily:SERIF,fontSize:42,color:'#000',verticalAlign:'top',lineHeight:24,padding:[0,6,0,6]}}}}),
    yAxis(0,'right',0,120,pmTicks,false),
    yAxis(1,'left',960,1050,presTicks,true,{name:'Sea Lev Pres (hPa)',nameLocation:'middle',nameRotate:90,nameGap:150,
      nameTextStyle:{fontFamily:SERIF,fontSize:60,color:'#000'}}),
    yAxis(1,'right',-12,25,dtTicks,true,{name:'{b|dT/dz (K. km}{s|\u22121}{b|)}',nameLocation:'middle',nameRotate:90,nameGap:132,
      nameTextStyle:{rich:{b:{fontFamily:SERIF,fontSize:56,color:'#0000ff'},s:{fontFamily:SERIF,fontSize:38,color:'#0000ff',verticalAlign:'top',lineHeight:24}}}})
  ],
  legend:[
    {data:['Passy','Sallanches','Chamonix','Marnaz'],left:2906,top:126,orient:'vertical',icon:'rect',itemWidth:80,itemHeight:7,itemGap:19,selectedMode:false,
      textStyle:{fontFamily:SERIF,fontSize:53,color:'#000',lineHeight:60,padding:[0,0,0,54]}},
    {data:['Annecy','Passy (b)'],left:2969,top:832,orient:'vertical',icon:'rect',itemWidth:82,itemHeight:7,itemGap:18,selectedMode:false,
      formatter:n=>n.replace(' (b)',''),
      textStyle:{fontFamily:SERIF,fontSize:53,color:'#000',lineHeight:60,padding:[0,0,0,54]}}
  ],
  series:[
    dash(pmLimit,0,0),
    line('Passy',pmPassy,'#ff0000',0,0,6,10),
    line('Sallanches',pmSallanches,'#ff9000',0,0,6,11),
    line('Chamonix',pmChamonix,'#008000',0,0,6,12),
    line('Marnaz',pmMarnaz,'#00bfbf',0,0,6,13),
    dash(dtZero,4,3),
    line('Annecy',presAnnecy,'#808080',4,2,6,10),
    line('Passy (b)',presPassy,'#000000',4,2,6,11),
    line('dT/dz',dTdz,'#0000ff',4,3,6,12),
    {type:'scatter',name:'stable',xAxisIndex:4,yAxisIndex:3,symbol:'roundRect',symbolSize:[13,12],silent:true,animation:false,z:13,
      itemStyle:{color:'#000'},data:stableDays.map(d=>[d,-10.85])}
  ]
});
</script></body></html>
